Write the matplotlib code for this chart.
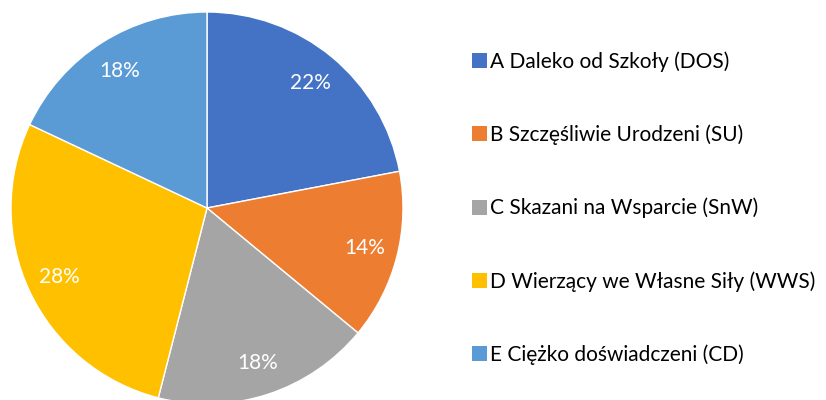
import matplotlib
matplotlib.use('Agg')
import matplotlib.pyplot as plt
from matplotlib.patches import Patch

plt.rcParams['font.family'] = ['Lato', 'DejaVu Sans']

# slices, clockwise from 12 o'clock
labels = ['A Daleko od Szkoły (DOS)',
          'B Szczęśliwie Urodzeni (SU)',
          'C Skazani na Wsparcie (SnW)',
          'D Wierzący we Własne Siły (WWS)',
          'E Ciężko doświadczeni (CD)']
shares = [22, 14, 18, 28, 18]
colors = ['#4472C4', '#ED7D31', '#A5A5A5', '#FFC000', '#5B9BD5']

fig = plt.figure(figsize=(8.26, 4.0), dpi=100)

# pie: centre ~ (207, 208) px, radius ~196 px
r = 196
ax = fig.add_axes([(207 - r) / 826, (192 - r) / 400, 2 * r / 826, 2 * r / 400])
ax.pie(shares, colors=colors, startangle=90, counterclock=False,
       autopct='%d%%', pctdistance=0.83,
       wedgeprops=dict(edgecolor='white', linewidth=1),
       textprops=dict(color='white', fontsize=15))
ax.set_xlim(-1, 1)
ax.set_ylim(-1, 1)
ax.set_aspect('equal')

# legend on the right, rows spread out
handles = [Patch(facecolor=c, edgecolor='none') for c in colors]
fig.legend(handles, labels, loc='upper left', bbox_to_anchor=(0.571, 0.872),
           frameon=False, fontsize=15, labelspacing=2.53,
           handlelength=0.75, handleheight=0.75, handletextpad=0.15,
           borderaxespad=0, borderpad=0)

fig.savefig('out.png', dpi=100)
